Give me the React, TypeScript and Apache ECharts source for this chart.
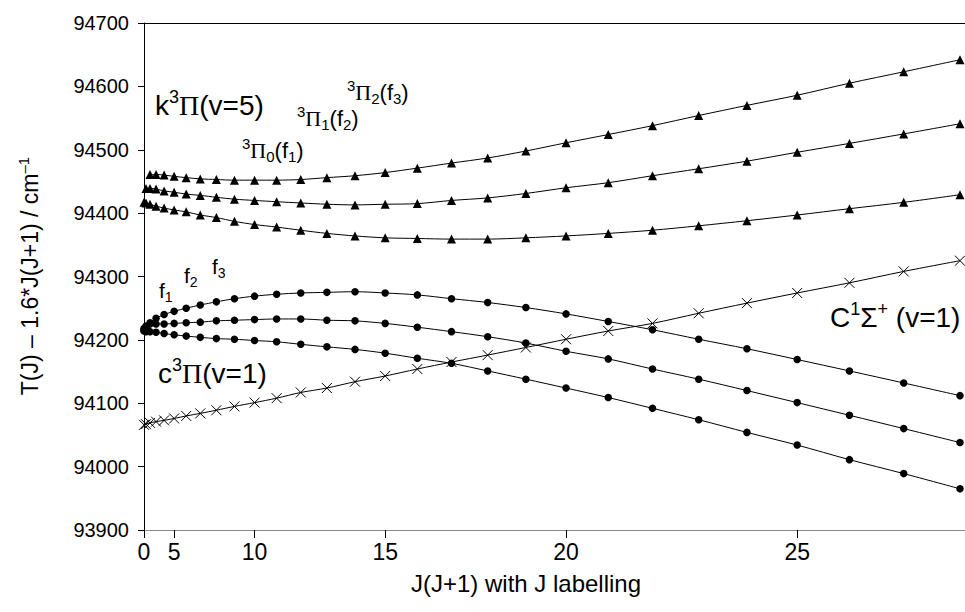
import React, { useEffect, useRef } from "react";
import * as echarts from "echarts";

// J labelling ticks on the J(J+1) axis
const J_TICKS = [0, 5, 10, 15, 20, 25];

// k3Pi(v=5) triplet components (triangles)
const J_PI2 = [2, 3, 4, 5, 6, 7, 8, 9, 10, 11, 12, 13, 14, 15, 16, 17, 18, 19, 20, 21, 22, 23, 24, 25, 26, 27, 28];
const PI2_F3 = [94461, 94461, 94460, 94458, 94456, 94454, 94453, 94452, 94452, 94452, 94453, 94456, 94459, 94464, 94471, 94479, 94487, 94498, 94511, 94524, 94538, 94554, 94570, 94586, 94605, 94623, 94642];

const J_PI1 = [1, 2, 3, 4, 5, 6, 7, 8, 9, 10, 11, 12, 13, 14, 15, 16, 17, 18, 19, 20, 21, 22, 23, 24, 25, 26, 27, 28];
const PI1_F2 = [94439, 94439, 94438, 94435, 94433, 94430, 94428, 94425, 94422, 94420, 94418, 94416, 94414, 94413, 94414, 94415, 94420, 94424, 94431, 94440, 94448, 94459, 94470, 94482, 94496, 94510, 94525, 94541];

const J_PI0 = [0, 1, 2, 3, 4, 5, 6, 7, 8, 9, 10, 11, 12, 13, 14, 15, 16, 17, 18, 19, 20, 21, 22, 23, 24, 25, 26, 27, 28];
const PI0_F1 = [94417, 94416, 94414, 94411, 94408, 94405, 94402, 94397, 94393, 94387, 94382, 94378, 94373, 94368, 94364, 94361, 94360, 94359, 94359, 94361, 94364, 94368, 94373, 94380, 94388, 94397, 94407, 94417, 94429];

// c3Pi(v=1) components (filled circles)
const J_C = [0, 1, 2, 3, 4, 5, 6, 7, 8, 9, 10, 11, 12, 13, 14, 15, 16, 17, 18, 19, 20, 21, 22, 23, 24, 25, 26, 27, 28];
const C_F3 = [94215, 94220, 94227, 94234, 94240, 94245, 94250, 94255, 94260, 94265, 94269, 94272, 94274, 94275, 94276, 94274, 94271, 94265, 94259, 94251, 94241, 94229, 94216, 94201, 94186, 94169, 94151, 94132, 94112];
const C_F2 = [94218, 94222, 94225, 94225, 94225, 94226, 94227, 94228, 94230, 94231, 94232, 94233, 94233, 94231, 94230, 94226, 94220, 94213, 94205, 94195, 94182, 94170, 94154, 94138, 94120, 94101, 94081, 94060, 94038];
const C_F1 = [94214, 94213, 94213, 94212, 94210, 94208, 94206, 94204, 94202, 94201, 94199, 94197, 94193, 94189, 94185, 94179, 94171, 94163, 94151, 94138, 94124, 94109, 94092, 94074, 94054, 94034, 94011, 93989, 93965];

// C1Sigma+(v=1) (crosses)
const J_SIG = [0, 1, 2, 3, 4, 5, 6, 7, 8, 9, 10, 11, 12, 13, 14, 15, 16, 17, 18, 19, 20, 21, 22, 23, 24, 25, 26, 27, 28];
const SIG = [94066, 94067, 94069, 94071, 94073, 94076, 94080, 94084, 94089, 94095, 94101, 94108, 94117, 94124, 94134, 94143, 94154, 94165, 94176, 94188, 94201, 94214, 94226, 94242, 94258, 94274, 94290, 94308, 94325];

const SANS = "'Liberation Sans', Arial, Helvetica, sans-serif";
const SERIF = "'Liberation Serif', 'Times New Roman', serif";

const jj = (j: number) => j * (j + 1);
const pairs = (js: number[], vs: number[]) => js.map((j, i) => [jj(j), vs[i]]);

function rich(S: number, r = 0.66) {
  const s = Math.round(S * r);
  return {
    a: { fontSize: S, fontFamily: SANS, lineHeight: S + 6, color: "#000" },
    p: { fontSize: S, fontFamily: SERIF, lineHeight: S + 6, color: "#000" },
    sup: { fontSize: s, fontFamily: SANS, lineHeight: s + 2, verticalAlign: "top", color: "#000" },
    sub: { fontSize: s, fontFamily: SANS, lineHeight: s + 2, verticalAlign: "bottom", color: "#000" },
  };
}

function label(x: number, y: number, text: string, S: number) {
  return {
    type: "text",
    x,
    y,
    style: { text, rich: rich(S), fill: "#000", align: "left", verticalAlign: "middle", font: `${S}px ${SANS}` },
  };
}

export default function App() {
  const ref = useRef<HTMLDivElement>(null);
  useEffect(() => {
    document.body.style.margin = "0";
    const chart = echarts.init(ref.current!, null, { renderer: "svg" });
    const line = { color: "#000", width: 1 };
    const tri = (name: string, js: number[], vs: number[]) => ({
      name,
      type: "line",
      data: pairs(js, vs),
      symbol: "triangle",
      symbolSize: 9,
      smooth: 0.3,
      lineStyle: line,
      itemStyle: { color: "#000" },
    });
    const dot = (name: string, js: number[], vs: number[]) => ({
      name,
      type: "line",
      data: pairs(js, vs),
      symbol: "circle",
      symbolSize: 7.5,
      smooth: 0.3,
      lineStyle: line,
      itemStyle: { color: "#000" },
    });
    const tickVals = J_TICKS.map(jj);
    chart.setOption({
      animation: false,
      backgroundColor: "#fff",
      grid: { left: 144, top: 23, right: 0, bottom: 82, containLabel: false },
      xAxis: {
        type: "value",
        min: 0,
        max: 817,
        axisLine: { lineStyle: { color: "#8a8a8a", width: 1 } },
        axisTick: { show: true, customValues: tickVals, length: 8, inside: false, lineStyle: { color: "#000" } },
        axisLabel: {
          customValues: tickVals,
          formatter: (v: number) => String(Math.round((-1 + Math.sqrt(1 + 4 * v)) / 2)),
          fontSize: 23,
          fontFamily: SANS,
          color: "#000",
          margin: 10,
        },
        splitLine: { show: false },
      },
      yAxis: {
        type: "value",
        min: 93900,
        max: 94700,
        interval: 100,
        axisLine: { show: true, lineStyle: { color: "#000", width: 1 } },
        axisTick: { show: true, length: 6, lineStyle: { color: "#000" } },
        axisLabel: { fontSize: 20, fontFamily: SANS, color: "#000", margin: 15, formatter: (v: number) => String(v) },
        splitLine: { show: false },
      },
      series: [
        tri("3Pi2(f3)", J_PI2, PI2_F3),
        tri("3Pi1(f2)", J_PI1, PI1_F2),
        tri("3Pi0(f1)", J_PI0, PI0_F1),
        dot("c f3", J_C, C_F3),
        dot("c f2", J_C, C_F2),
        dot("c f1", J_C, C_F1),
        {
          name: "C1Sigma+",
          type: "line",
          data: pairs(J_SIG, SIG),
          symbol: "path://M0,0L10,10M0,10L10,0",
          symbolSize: 10,
          smooth: 0.3,
          lineStyle: line,
          itemStyle: { color: "none", borderColor: "#000", borderWidth: 1 },
        },
      ],
      graphic: [
        { type: "line", shape: { x1: 144, y1: 23.5, x2: 965, y2: 23.5 }, style: { stroke: "#000", lineWidth: 1 } },
        label(155, 105, "{a|k}{sup|3}{p|Π}{a|(v=5)}", 28),
        label(347, 92, "{sup|3}{p|Π}{sub|2}{a|(f}{sub|3}{a|)}", 22),
        label(297, 118, "{sup|3}{p|Π}{sub|1}{a|(f}{sub|2}{a|)}", 22),
        label(242, 150, "{sup|3}{p|Π}{sub|0}{a|(f}{sub|1}{a|)}", 22),
        label(159, 290, "{a|f}{sub|1}", 21),
        label(184, 275, "{a|f}{sub|2}", 21),
        label(212, 266, "{a|f}{sub|3}", 21),
        label(158, 373, "{a|c}{sup|3}{p|Π}{a|(v=1)}", 28),
        label(830, 317, "{a|C}{sup|1}{a|Σ}{sup|+}{a| (v=1)}", 28),
        {
          type: "text",
          x: 526,
          y: 583,
          style: { text: "J(J+1) with J labelling", font: `24px ${SANS}`, fill: "#000", align: "center", verticalAlign: "middle" },
        },
        {
          type: "text",
          x: 30,
          y: 276,
          rotation: Math.PI / 2,
          style: {
            text: "{a|T(J) – 1.6*J(J+1) / cm}{sup|–1}",
            rich: rich(23),
            fill: "#000",
            align: "center",
            verticalAlign: "middle",
            font: `23px ${SANS}`,
          },
        },
      ],
    });
    return () => chart.dispose();
  }, []);
  return <div ref={ref} style={{ width: 965, height: 612 }} />;
}
